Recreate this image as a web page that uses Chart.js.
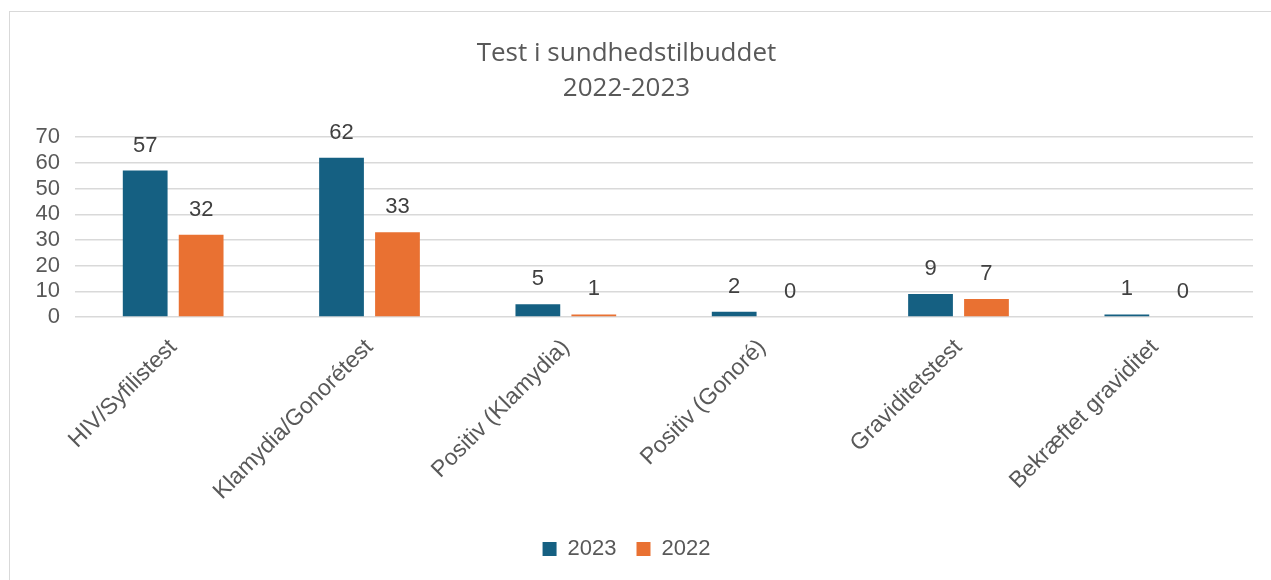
<!DOCTYPE html>
<html>
<head>
<meta charset="utf-8">
<script src="https://cdn.jsdelivr.net/npm/chart.js@4.4.1/dist/chart.umd.min.js"></script>
<style>
  body { margin: 0; background: #fff; }
  #frame { position: absolute; left: 9px; top: 11px; width: 1300px; height: 600px;
           border-left: 1px solid #d9d9d9; border-top: 1px solid #d9d9d9; }
  #wrap { position: absolute; left: 0; top: 0; width: 1271px; height: 580px; }
</style>
</head>
<body>
<div id="frame"></div>
<div id="wrap"><canvas id="myChart"></canvas></div>
<script>
// Chart data
const categories = ['HIV/Syfilistest', 'Klamydia/Gonorétest', 'Positiv (Klamydia)', 'Positiv (Gonoré)', 'Graviditetstest', 'Bekræftet graviditet'];
const values2023 = [57, 62, 5, 2, 9, 1];
const values2022 = [32, 33, 1, 0, 7, 0];
const titleLines = ['Test i sundhedstilbuddet', '2022-2023'];

const FONT = "'Liberation Sans', Arial, sans-serif";
const TITLE_FONT = "'Open Sans', sans-serif";

// Value labels above each bar
const valueLabels = {
    id: 'valueLabels',
    afterDatasetsDraw(chart) {
        const ctx = chart.ctx;
        ctx.save();
        ctx.font = '22px ' + FONT;
        ctx.fillStyle = '#404040';
        ctx.textAlign = 'center';
        ctx.textBaseline = 'middle';
        chart.data.datasets.forEach((ds, i) => {
            chart.getDatasetMeta(i).data.forEach((bar, j) => {
                ctx.fillText(ds.data[j], bar.x, bar.y - 25);
            });
        });
        ctx.restore();
    }
};

const ctx = document.getElementById('myChart').getContext('2d');
const chart = new Chart(ctx, {
    type: 'bar',
    data: {
        labels: categories,
        datasets: [
            { label: '2023', data: values2023, backgroundColor: '#156082',
              categoryPercentage: 0.57, barPercentage: 0.8 },
            { label: '2022', data: values2022, backgroundColor: '#E97132',
              categoryPercentage: 0.57, barPercentage: 0.8 }
        ]
    },
    options: {
        responsive: true,
        maintainAspectRatio: false,
        animation: false,
        layout: { padding: { left: 0, right: 18, top: 0, bottom: 10 } },
        plugins: {
            title: {
                display: true,
                text: titleLines,
                color: '#595959',
                font: { family: TITLE_FONT, size: 26, weight: 'normal', lineHeight: 1.35 },
                padding: { top: 36, bottom: 31 }
            },
            legend: {
                position: 'bottom',
                labels: {
                    color: '#595959',
                    font: { family: FONT, size: 22 },
                    boxWidth: 14,
                    boxHeight: 14,
                    padding: 20
                }
            },
            tooltip: { enabled: false }
        },
        scales: {
            x: {
                grid: { display: false },
                border: { display: false },
                ticks: {
                    color: '#595959',
                    font: { family: FONT, size: 23 },
                    minRotation: 45,
                    maxRotation: 45,
                    padding: 9
                },
                afterFit(scale) { scale.height = 201; }
            },
            y: {
                min: 0,
                max: 70,
                ticks: {
                    stepSize: 10,
                    autoSkip: false,
                    color: '#595959',
                    font: { family: FONT, size: 22 },
                    padding: 15
                },
                grid: { color: '#d9d9d9', lineWidth: 1.5, drawTicks: false },
                border: { display: false },
                afterFit(scale) { scale.width = 75; }
            }
        }
    },
    plugins: [valueLabels]
});
</script>
</body>
</html>
